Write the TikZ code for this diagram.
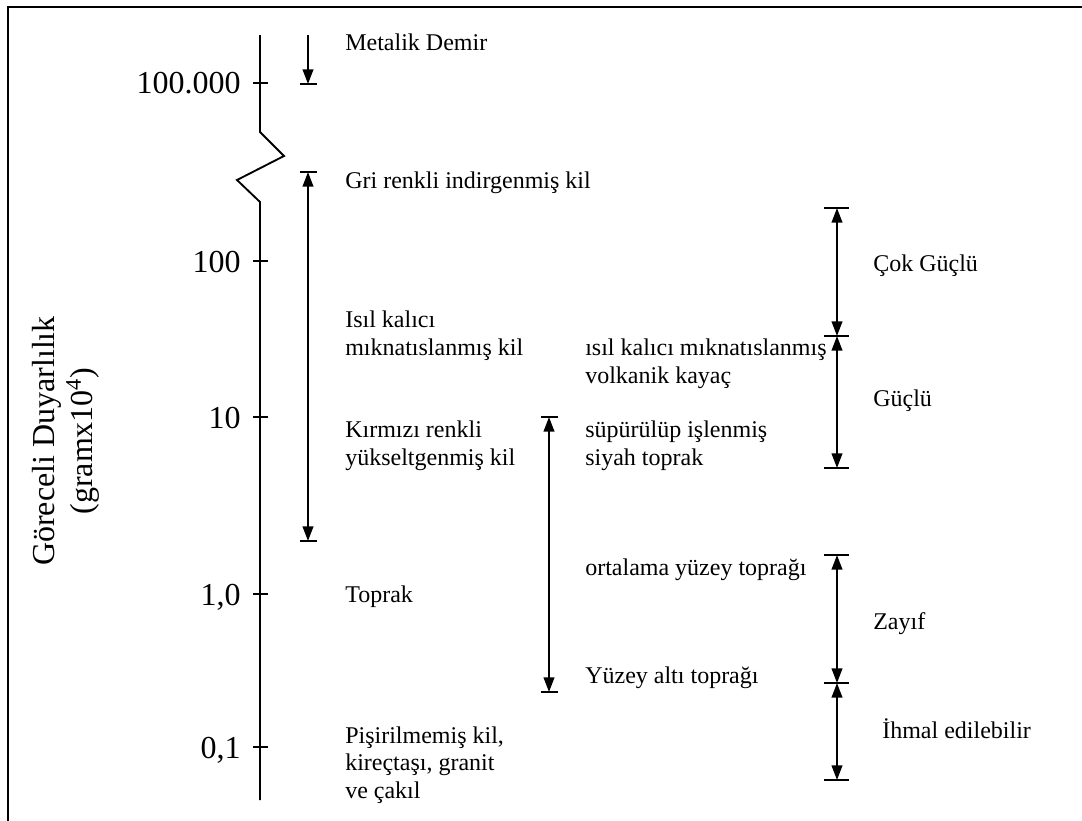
\documentclass[tikz,border=0pt]{standalone}
\usepackage{fontspec}
\setmainfont{Liberation Serif}
\usetikzlibrary{arrows.meta,calc}
\begin{document}
\begin{tikzpicture}[x=0.75pt,y=-0.75pt,
  ln/.style={line width=1.4pt},
  dn/.style={ln,-{Triangle[length=11pt,width=8pt]}},
  both/.style={ln,{Triangle[length=11pt,width=8pt]}-{Triangle[length=11pt,width=8pt]}},
  lbl/.style={anchor=base west, inner sep=0pt, align=left, font=\fontsize{18}{20.6}\selectfont},
  tlbl/.style={anchor=base east, inner sep=0pt, font=\fontsize{24}{28}\selectfont},
]
\useasboundingbox (0,0) rectangle (1082,821);
% frame
\draw[line width=1.5pt] (8,821) -- (8,7) -- (1082,7);
% axis with break
\draw[ln] (260,35) -- (260,132) -- (284,156) -- (237,180) -- (260,202) -- (260,800);
\foreach \yy in {83,261,417,594,747} \draw[ln] (253,\yy) -- (268,\yy);
% tick labels
\node[tlbl] (t5) at (241,93) {100.000};
\node[tlbl] (t4) at (241,272) {100};
\node[tlbl] (t3) at (241,428) {10};
\node[tlbl] (t2) at (241,605) {1,0};
\node[tlbl] (t1) at (241,758) {0,1};
% axis title
\node[rotate=90, align=center, inner sep=0pt, font=\fontsize{24}{29}\selectfont] (ylab) at (66,441) {Göreceli Duyarlılık\\(gramx10\textsuperscript{4})};
% arrow end points
\coordinate (a1t) at (308,35);  \coordinate (a1b) at (308,84);
\coordinate (a2t) at (308,172); \coordinate (a2b) at (308,541);
\coordinate (a3t) at (549,417); \coordinate (a3b) at (549,692);
\coordinate (a4t) at (837,208); \coordinate (a4m) at (837,336); \coordinate (a4b) at (837,468);
\coordinate (a6t) at (837,555); \coordinate (a6m) at (837,683); \coordinate (a6b) at (837,780);
% arrows
\draw[dn] (a1t) -- (a1b);
\draw[both] (a2t) -- (a2b);
\draw[both] (a3t) -- (a3b);
\draw[both] (a4t) -- (a4m);
\draw[both] (a4m) -- (a4b);
\draw[both] (a6t) -- (a6m);
\draw[both] (a6m) -- (a6b);
% bars
\foreach \c in {a1b,a2t,a2b,a3t,a3b} \draw[ln] ($(\c)+(-8.5,0)$) -- ($(\c)+(8.5,0)$);
\foreach \c in {a4t,a4m,a4b,a6t,a6m,a6b} \draw[ln] ($(\c)+(-13,0)$) -- ($(\c)+(12,0)$);
% labels (base anchor = baseline of last line)
\node[lbl] (metal) at (345,50) {Metalik Demir};
\node[lbl] (gri) at (345,188) {Gri renkli indirgenmiş kil};
\node[lbl] (isil) at (345,355) {Isıl kalıcı\\mıknatıslanmış kil};
\node[lbl] (kirm) at (345,465) {Kırmızı renkli\\yükseltgenmiş kil};
\node[lbl] (toprak) at (345,602) {Toprak};
\node[lbl] (pisir) at (345,798) {Pişirilmemiş kil,\\kireçtaşı, granit\\ve çakıl};
\node[lbl] (volk) at (585,383) {ısıl kalıcı mıknatıslanmış\\volkanik kayaç};
\node[lbl] (supur) at (585,465) {süpürülüp işlenmiş\\siyah toprak};
\node[lbl] (ortal) at (585,575) {ortalama yüzey toprağı};
\node[lbl] (altt) at (585,683) {Yüzey altı toprağı};
\node[lbl] (cok) at (873,271) {Çok Güçlü};
\node[lbl] (guclu) at (873,406) {Güçlü};
\node[lbl] (zayif) at (873,629) {Zayıf};
\node[lbl] (ihmal) at (882,738) {İhmal edilebilir};
\end{tikzpicture}
\end{document}
